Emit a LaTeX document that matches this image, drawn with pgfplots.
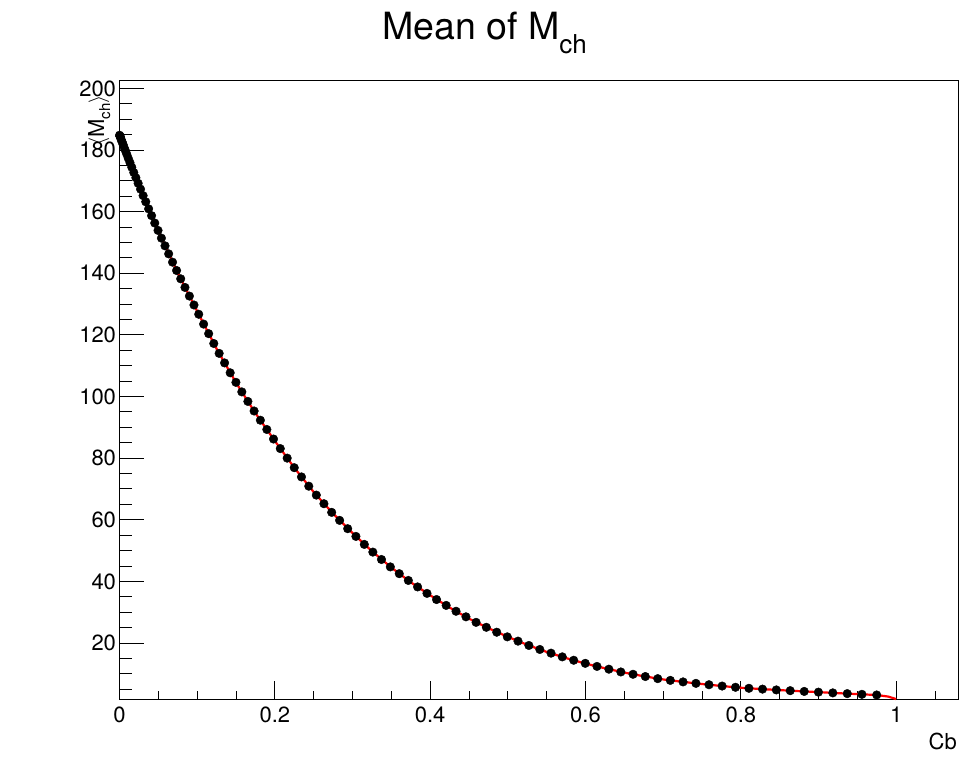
\documentclass[border=0pt]{standalone}
\usepackage{pgfplots}
\pgfplotsset{compat=1.18}
\usepackage{fontspec}
\setmainfont{TeX Gyre Heros}
\begin{document}
\begin{tikzpicture}
\useasboundingbox (0,0) rectangle (979pt,757pt);
\begin{axis}[
  at={(119.5pt,57pt)}, anchor=south west,
  scale only axis, width=838.8pt, height=619.3pt,
  xmin=0, xmax=1.08, ymin=1.5, ymax=202.5,
  xtick={0,0.2,0.4,0.6,0.8,1},
  xticklabels={0,0.2,0.4,0.6,0.8,1},
  ytick={20,40,60,80,100,120,140,160,180,200},
  yticklabels={20,40,60,80,100,120,140,160,180,200},
  minor xtick={0.05,0.1,0.15,0.25,0.3,0.35,0.45,0.5,0.55,0.65,0.7,0.75,0.85,0.9,0.95,1.05},
  minor ytick={5,10,15,25,30,35,45,50,55,65,70,75,85,90,95,105,110,115,125,130,135,145,150,155,165,170,175,185,190,195},
  tick align=inside,
  xtick pos=bottom, ytick pos=left,
  xtick style={/pgfplots/major tick length=18.6pt,/pgfplots/minor tick length=9.3pt,line width=0.9pt,black},
  ytick style={/pgfplots/major tick length=25pt,/pgfplots/minor tick length=12.5pt,line width=0.9pt,black},
  tick label style={font=\fontsize{22}{22}\selectfont},
  xticklabel style={yshift=-3pt},
  /pgf/number format/assume math mode=true,
  axis line style={line width=1pt},
  clip=false,
]
\addplot[only marks, mark=*, mark size=4.3pt, black] coordinates {
(0.0001,184.8)(0.0004,184.6)(0.0008,184.4)(0.0015,183.9)(0.0023,183.3)(0.0034,182.6)(0.0046,181.8)(0.0060,180.8)(0.0076,179.8)(0.0094,178.6)
(0.0113,177.3)(0.0135,175.9)(0.0158,174.4)(0.0184,172.7)(0.0211,171.0)(0.0240,169.2)(0.0271,167.3)(0.0304,165.2)(0.0338,163.2)(0.0375,160.9)
(0.0413,158.7)(0.0454,156.3)(0.0496,153.9)(0.0540,151.4)(0.0586,148.9)(0.0633,146.3)(0.0683,143.6)(0.0735,140.9)(0.0788,138.2)(0.0843,135.4)
(0.0900,132.6)(0.0959,129.7)(0.1020,126.7)(0.1083,123.5)(0.1148,120.4)(0.1214,117.2)(0.1283,114.0)(0.1353,110.9)(0.1425,107.7)(0.1499,104.6)
(0.1575,101.5)(0.1653,98.4)(0.1733,95.3)(0.1814,92.3)(0.1897,89.3)(0.1983,86.2)(0.2070,83.1)(0.2159,80.0)(0.2250,76.9)(0.2343,73.9)
(0.2437,70.9)(0.2534,68.0)(0.2632,65.2)(0.2732,62.4)(0.2834,59.8)(0.2938,57.1)(0.3044,54.6)(0.3152,52.0)(0.3262,49.5)(0.3373,47.1)
(0.3487,44.7)(0.3602,42.5)(0.3719,40.3)(0.3838,38.2)(0.3959,36.1)(0.4082,34.1)(0.4206,32.2)(0.4333,30.3)(0.4461,28.5)(0.4591,26.7)
(0.4723,25.1)(0.4857,23.5)(0.4993,22.0)(0.5131,20.6)(0.5271,19.2)(0.5412,17.9)(0.5556,16.7)(0.5701,15.5)(0.5848,14.4)(0.5997,13.4)
(0.6148,12.4)(0.6301,11.5)(0.6455,10.6)(0.6612,9.85)(0.6770,9.12)(0.6930,8.43)(0.7092,7.87)(0.7256,7.37)(0.7422,6.90)(0.7590,6.45)
(0.7759,6.03)(0.7931,5.63)(0.8104,5.30)(0.8279,5.03)(0.8457,4.77)(0.8636,4.53)(0.8816,4.28)(0.8999,4.05)(0.9184,3.81)(0.9370,3.57)
(0.9559,3.34)(0.9749,3.13)
};
\addplot[red, line width=2.2pt] coordinates {
(0,185.5)(0.025,168.6)(0.05,153.7)(0.075,140.1)(0.1,127.7)(0.125,115.5)(0.15,104.5)(0.175,94.6)(0.2,85.6)
(0.225,76.9)(0.25,69.0)(0.275,62.0)(0.3,55.7)(0.325,49.8)(0.35,44.5)(0.375,39.7)(0.4,35.5)
(0.425,31.5)(0.45,27.9)(0.475,24.8)(0.5,22.0)(0.525,19.4)(0.55,17.1)(0.575,15.1)(0.6,13.3)
(0.625,11.8)(0.65,10.4)(0.675,9.21)(0.7,8.17)(0.725,7.39)(0.75,6.69)(0.775,6.05)(0.8,5.47)
(0.825,5.07)(0.85,4.71)(0.875,4.37)(0.9,4.06)(0.925,3.72)(0.95,3.41)(0.975,3.12)(0.99,2.6)(1.0,1.8)
};
\end{axis}
\node[anchor=base west, inner sep=0pt, font=\fontsize{37.5}{40}\selectfont] at (382pt,717.7pt) {Mean of M\raisebox{-14pt}{\fontsize{26}{26}\selectfont ch}};
\node[anchor=base east, inner sep=0pt, rotate=90, font=\fontsize{22}{22}\selectfont] at (104pt,662pt) {$\langle$M\raisebox{-6pt}{\fontsize{15}{15}\selectfont ch}$\rangle$};
\node[anchor=base east, inner sep=0pt, font=\fontsize{22}{22}\selectfont] at (957pt,7pt) {Cb};
\end{tikzpicture}
\end{document}
